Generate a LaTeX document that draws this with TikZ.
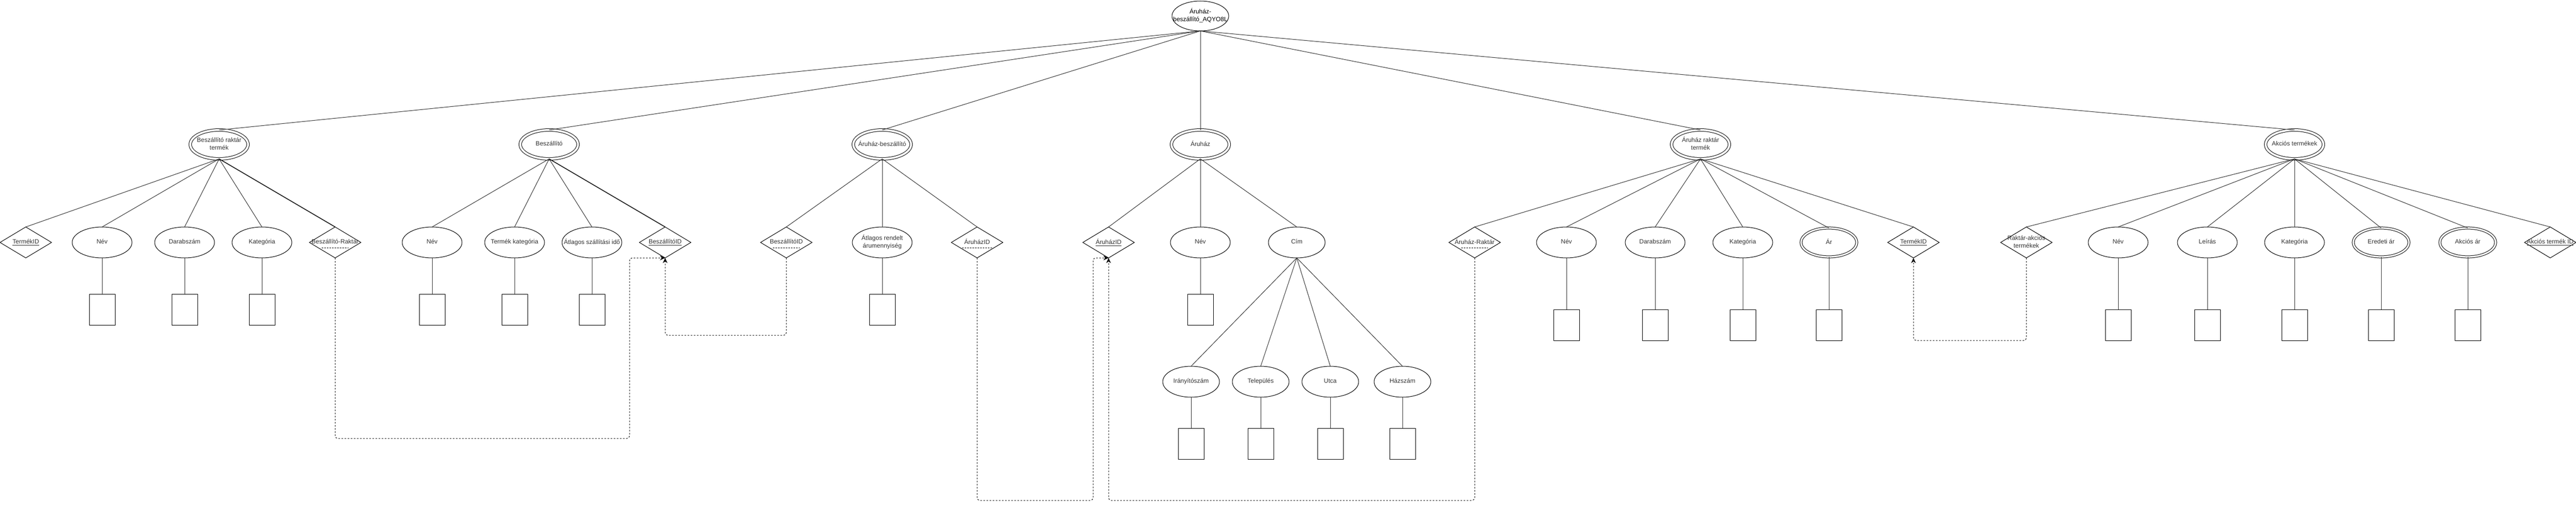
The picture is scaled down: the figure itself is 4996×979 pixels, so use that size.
\documentclass[tikz,border=0pt]{standalone}
\usepackage{fontspec}
\setmainfont{Liberation Sans}
\usetikzlibrary{shapes.geometric,arrows.meta,calc}
\definecolor{txt}{HTML}{333333}
\newcommand{\ml}[1]{\makebox[0pt]{\begin{tabular}{@{}c@{}}#1\end{tabular}}}
\begin{document}
\begin{tikzpicture}[x=0.5pt,y=-0.5pt,
  font=\fontsize{6}{7.2}\selectfont,
  every node/.style={inner sep=0pt,outer sep=0pt,text=txt},
  ent/.style={ellipse,draw,line width=0.5pt,double,double distance=2pt,minimum width=56pt,minimum height=28pt},
  attr/.style={ellipse,draw,line width=0.5pt,minimum width=58pt,minimum height=30pt},
  sattr/.style={ellipse,draw,line width=0.5pt,minimum width=55pt,minimum height=30pt},
  dattr/.style={ellipse,draw,line width=0.5pt,double,double distance=1.6pt,minimum width=54pt,minimum height=28pt},
  keyd/.style={diamond,draw,line width=0.5pt,minimum width=50pt,minimum height=30pt},
  box/.style={rectangle,draw,line width=0.5pt,minimum width=25pt,minimum height=30pt},
  conn/.style={draw=black!80,line width=0.5pt},
  strong/.style={draw=black!90,line width=0.8pt},
  fk/.style={draw=black,line width=0.5pt,dash pattern=on 1.5pt off 1.5pt,rounded corners=2.5pt,-{Stealth[length=5pt,width=4.5pt]}},
  dul/.style={draw=black,line width=0.5pt,dash pattern=on 1.5pt off 1pt}]
\useasboundingbox (0,0) rectangle (4996,979);

% top
\node[ellipse,draw,line width=0.5pt,minimum width=55pt,minimum height=29pt,text=black] (T) at (2328,31) {\ml{Áruház-\\beszállító\_AQYO8L}};

% entities
\node[ent] (E1) at (425,280) {\ml{Beszállító raktár\\termék}};
\node[ent] (E2) at (1065,280) {\ml{Beszállító}};
\node[ent] (E3) at (1711,280) {\ml{Áruház-beszállító}};
\node[ent] (E4) at (2328,280) {\ml{Áruház}};
\node[ent] (E5) at (3298,280) {\ml{Áruház raktár\\termék}};
\node[ent] (E6) at (4450,280) {\ml{Akciós termékek}};

% group 1
\node[keyd] (d11) at (50,470) {\ml{\underline{TermékID}}};
\node[attr] (a12) at (198,470) {\ml{Név}};
\node[attr] (a13) at (358,470) {\ml{Darabszám}};
\node[attr] (a14) at (508,470) {\ml{Kategória}};
\node[keyd] (d15) at (650,470) {\ml{Beszállító-Raktár}};
\node[box] (b12) at (198,600) {};
\node[box] (b13) at (358,600) {};
\node[box] (b14) at (508,600) {};

% group 2
\node[attr] (a21) at (838,470) {\ml{Név}};
\node[attr] (a22) at (998,470) {\ml{Termék kategória}};
\node[attr] (a23) at (1148,470) {\ml{Átlagos szállítási idő}};
\node[keyd] (d24) at (1290,470) {\ml{\underline{BeszállítóID}}};
\node[box] (b21) at (838,600) {};
\node[box] (b22) at (998,600) {};
\node[box] (b23) at (1148,600) {};

% group 3
\node[keyd] (d31) at (1525,470) {\ml{BeszállítóID}};
\node[attr] (a32) at (1711,470) {\ml{Átlagos rendelt\\árumennyiség}};
\node[keyd] (d33) at (1895,470) {\ml{ÁruházID}};
\node[box] (b32) at (1711,600) {};

% group 4
\node[keyd] (d41) at (2150,470) {\ml{\underline{ÁruházID}}};
\node[attr] (a42) at (2328,470) {\ml{Név}};
\node[sattr] (a43) at (2515,470) {\ml{Cím}};
\node[box] (b42) at (2328,600) {};
\node[sattr] (c1) at (2310,740) {\ml{Irányítószám}};
\node[sattr] (c2) at (2445,740) {\ml{Település}};
\node[sattr] (c3) at (2580,740) {\ml{Utca}};
\node[sattr] (c4) at (2720,740) {\ml{Házszám}};
\node[box] (bc1) at (2310,860) {};
\node[box] (bc2) at (2445,860) {};
\node[box] (bc3) at (2580,860) {};
\node[box] (bc4) at (2720,860) {};

% group 5
\node[keyd] (d51) at (2860,470) {\ml{Áruház-Raktár}};
\node[attr] (a52) at (3038,470) {\ml{Név}};
\node[attr] (a53) at (3210,470) {\ml{Darabszám}};
\node[attr] (a54) at (3380,470) {\ml{Kategória}};
\node[dattr] (a55) at (3547,470) {\ml{Ár}};
\node[keyd] (d56) at (3711,470) {\ml{\underline{TermékID}}};
\node[box] (b52) at (3038,630) {};
\node[box] (b53) at (3210,630) {};
\node[box] (b54) at (3380,630) {};
\node[box] (b55) at (3547,630) {};

% group 6
\node[keyd] (d61) at (3930,470) {\ml{Raktár-akciós\\termékek}};
\node[attr] (a62) at (4108,470) {\ml{Név}};
\node[attr] (a63) at (4281,470) {\ml{Leírás}};
\node[attr] (a64) at (4450,470) {\ml{Kategória}};
\node[dattr] (a65) at (4618,470) {\ml{Eredeti ár}};
\node[dattr] (a66) at (4786,470) {\ml{Akciós ár}};
\node[keyd] (d67) at (4946,470) {\ml{\underline{Akciós termék ID}}};
\node[box] (b62) at (4108,630) {};
\node[box] (b63) at (4281,630) {};
\node[box] (b64) at (4450,630) {};
\node[box] (b65) at (4618,630) {};
\node[box] (b66) at (4786,630) {};

% dashed underlines (partial keys)
\foreach \n/\w in {d15/26,d31/26,d33/29,d51/26}
  \draw[dul] ($(\n.center)+(-\w,10)$) -- ($(\n.center)+(\w,10)$);

% connectors from the root
\foreach \e in {E1,E2,E3,E4,E5,E6}
  \draw[conn] (T.south) -- (\e.north);

% entity -> attributes
\foreach \n in {d11,a12,a13,a14} \draw[conn] (E1.south) -- (\n.north);
\draw[strong] (E1.south) -- (d15.north);
\foreach \n in {a21,a22,a23} \draw[conn] (E2.south) -- (\n.north);
\draw[strong] (E2.south) -- (d24.north);
\foreach \n in {d31,a32,d33} \draw[conn] (E3.south) -- (\n.north);
\foreach \n in {d41,a42,a43} \draw[conn] (E4.south) -- (\n.north);
\foreach \n in {c1,c2,c3,c4} \draw[conn] (a43.south) -- (\n.north);
\foreach \n in {d51,a52,a53,a54,a55,d56} \draw[conn] (E5.south) -- (\n.north);
\foreach \n in {d61,a62,a63,a64,a65,a66,d67} \draw[conn] (E6.south) -- (\n.north);

% attribute -> domain boxes
\foreach \n in {12,13,14,21,22,23,32,42,52,53,54,55,62,63,64,65,66}
  \draw[conn] (a\n.south) -- (b\n.north);
\foreach \n in {1,2,3,4}
  \draw[conn] (c\n.south) -- (bc\n.north);

% foreign-key references
\draw[fk] (d15.south) -- ++(0,350) -| ($(d24.south)+(-69,0)$) -- (d24.south);
\draw[fk] (d31.south) -- ++(0,150) -| (d24.south);
\draw[fk] (d33.south) -- ++(0,470) -| ($(d41.south)+(-30,0)$) -- (d41.south);
\draw[fk] (d51.south) -- ++(0,470) -| (d41.south);
\draw[fk] (d61.south) -- ++(0,160) -| (d56.south);
\end{tikzpicture}
\end{document}
